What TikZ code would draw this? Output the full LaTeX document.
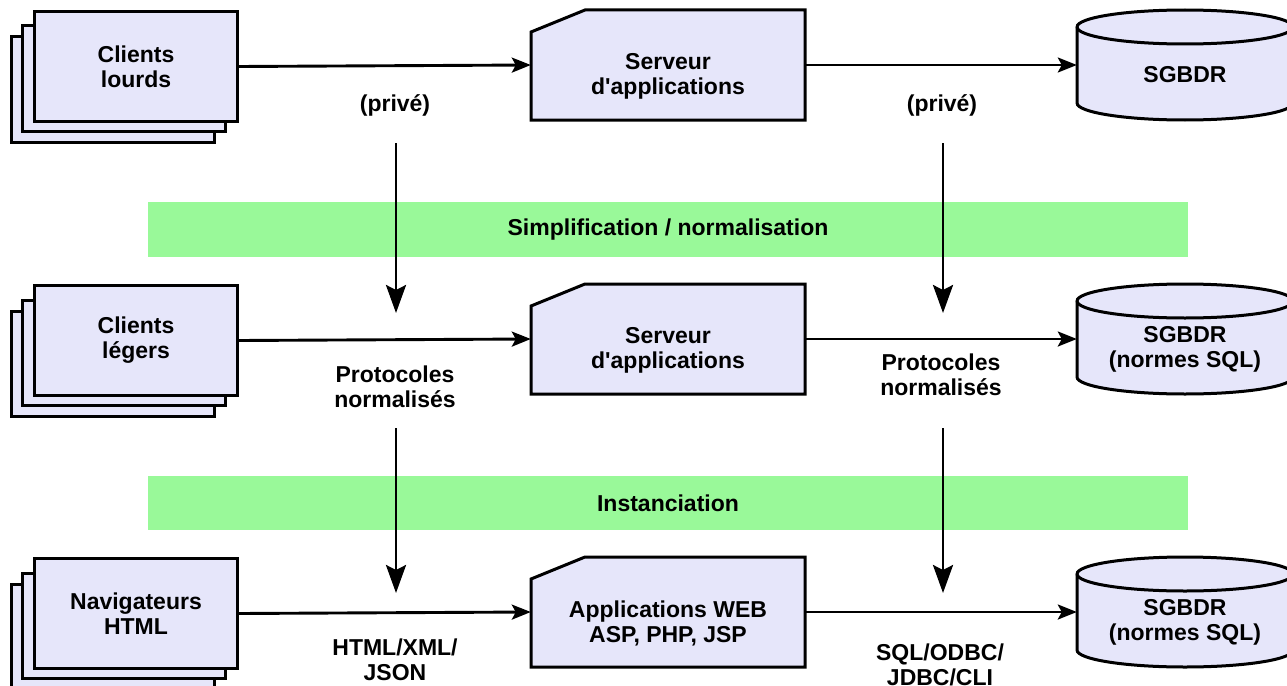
\documentclass[tikz,border=0pt]{standalone}
\usepackage{fontspec}
\setmainfont{Liberation Sans}[Ligatures=TeXOff]
\usetikzlibrary{arrows.meta}
\definecolor{boxfill}{HTML}{E6E6FA}
\definecolor{bandfill}{HTML}{99F999}
\tikzset{
  outline/.style={draw=black, line width=3pt, fill=boxfill, line join=miter},
  lbl/.style={font=\fontsize{23}{25}\selectfont\bfseries, align=center, inner sep=0pt},
  anchorbox/.style={draw=none, inner sep=0pt},
  harrow/.style={line width=2.9pt, -{Stealth[length=19pt, width=15pt, inset=4pt]}},
  varrow/.style={line width=2.9pt, -{Stealth[length=28pt, width=20pt, inset=5pt]}},
  band/.style={fill=bandfill, draw=none},
  clients/.pic={
    \draw[outline] (11,37) rectangle (214,142);
    \draw[outline] (22,26) rectangle (225,131);
    \node[outline, lbl, minimum width=203pt, minimum height=110pt, anchor=north west] (-n) at (33,10) {#1};
  },
  server/.pic={
    \draw[outline] (531,32) -- (585,10) -- (805,10) -- (805,120) -- (531,120) -- cycle;
    \node[anchorbox, minimum width=274pt, minimum height=110pt] (-n) at (668,65) {};
    \node[lbl] (-t) at (668,76) {#1};
  },
  db/.pic={
    \draw[outline] (1077,27) -- (1077,103) .. controls (1077,112.4) and (1125.4,120) .. (1185,120) .. controls (1244.6,120) and (1293,112.4) .. (1293,103) -- (1293,27) .. controls (1293,17.6) and (1244.6,10) .. (1185,10) .. controls (1125.4,10) and (1077,17.6) .. (1077,27) -- cycle;
    \draw[outline, fill=none] (1077,27) .. controls (1077,36.4) and (1125.4,44) .. (1185,44) .. controls (1244.6,44) and (1293,36.4) .. (1293,27);
    \node[anchorbox, minimum width=216pt, minimum height=110pt] (-n) at (1185,65) {};
    \node[lbl] (-t) at (1185,75) {#1};
  },
}
\begin{document}
\begin{tikzpicture}[x=1pt, y=-1pt]
\useasboundingbox (0,0) rectangle (1287,685);
\clip (0,0) rectangle (1287,685);
\fill[white] (0,0) rectangle (1287,685);

% bands
\node[band, lbl, minimum width=1040pt, minimum height=55pt] (b1) at (668,229.5) {Simplification / normalisation};
\node[band, lbl, minimum width=1040pt, minimum height=54pt] (b2) at (668,503) {Instanciation};

% row 1
\pic (c1) at (0,0) {clients={Clients\\lourds}};
\pic (s1) at (0,0) {server={Serveur\\d'applications}};
\pic (d1) at (0,0) {db={SGBDR}};
% row 2
\pic (c2) at (0,274) {clients={Clients\\légers}};
\pic (s2) at (0,274) {server={Serveur\\d'applications}};
\pic (d2) at (0,274) {db={SGBDR\\(normes SQL)}};
% row 3
\pic (c3) at (0,547) {clients={Navigateurs\\HTML}};
\pic (s3) at (0,547) {server={Applications WEB\\ASP, PHP, JSP}};
\pic (d3) at (0,547) {db={SGBDR\\(normes SQL)}};

% horizontal connectors
\draw[harrow] (c1-n.east) -- (s1-n.west);
\draw[harrow] (s1-n.east) -- (d1-n.west);
\draw[harrow] (c2-n.east) -- (s2-n.west);
\draw[harrow] (s2-n.east) -- (d2-n.west);
\draw[harrow] (c3-n.east) -- (s3-n.west);
\draw[harrow] (s3-n.east) -- (d3-n.west);

% connector labels
\node[lbl] (p1) at (395,105) {(privé)};
\node[lbl] (p2) at (942,105) {(privé)};
\node[lbl] (n1) at (395,387) {Protocoles\\normalisés};
\node[lbl] (n2) at (941,375) {Protocoles\\normalisés};
\node[lbl] (h1) at (395,660) {HTML/XML/\\JSON};
\node[lbl] (q1) at (940,665) {SQL/ODBC/\\JDBC/CLI};

% vertical arrows
\coordinate (a1s) at (396,143);
\coordinate (a1e) at (396,313);
\coordinate (a2s) at (943,143);
\coordinate (a2e) at (943,313);
\coordinate (a3s) at (396,428);
\coordinate (a3e) at (396,593);
\coordinate (a4s) at (943,428);
\coordinate (a4e) at (943,593);
\draw[varrow] (a1s) -- (a1e);
\draw[varrow] (a2s) -- (a2e);
\draw[varrow] (a3s) -- (a3e);
\draw[varrow] (a4s) -- (a4e);
\end{tikzpicture}
\end{document}
